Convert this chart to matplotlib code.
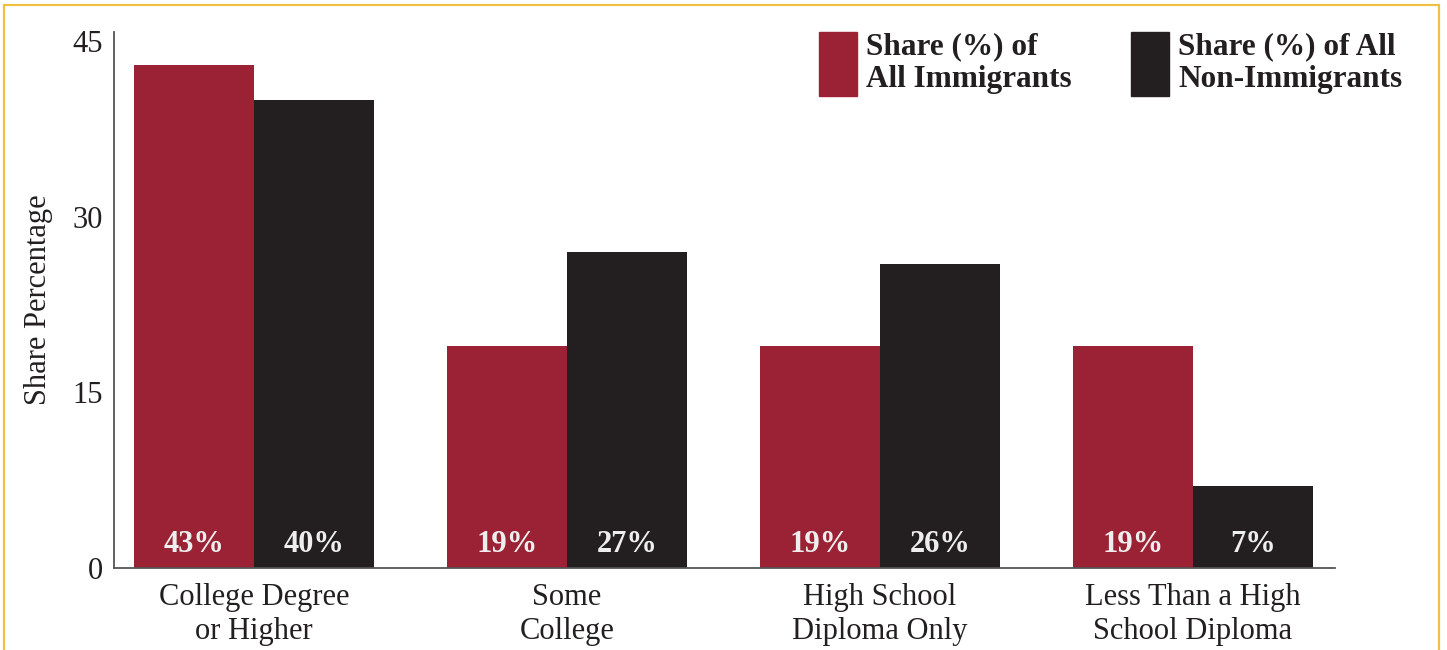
import numpy as np
import matplotlib.pyplot as plt
from matplotlib.patches import Rectangle

categories = ["College Degree\nor Higher", "Some\nCollege", "High School\nDiploma Only", "Less Than a High\nSchool Diploma"]
immigrants = [43, 19, 19, 19]
non_immigrants = [40, 27, 26, 7]
series_names = ["Share (%) of\nAll Immigrants", "Share (%) of All\nNon-Immigrants"]

red = "#9b2235"
dark = "#231f20"
serif = ["Liberation Serif", "DejaVu Serif"]

plt.rcParams["font.family"] = serif

fig = plt.figure(figsize=(14.47, 6.5), dpi=100)
ax = fig.add_axes([114 / 1447, 1 - 568 / 650, (1335 - 114) / 1447, (568 - 32) / 650])

x = np.arange(len(categories))
w = 0.383
b1 = ax.bar(x - w / 2, immigrants, w, color=red)
b2 = ax.bar(x + w / 2, non_immigrants, w, color=dark)

# value labels inside bars near the base
for bars, vals in [(b1, immigrants), (b2, non_immigrants)]:
    for bar, v in zip(bars, vals):
        ax.text(bar.get_x() + bar.get_width() / 2, 2.0, f"{v}%", ha="center", va="center",
                color="#eeeeee", fontsize=22, fontweight="bold")

ax.set_xlim(-0.447, 3.454)
ax.set_ylim(0, 45.8)
ax.set_yticks([0, 15, 30, 45])
ax.set_xticks(x)
ax.set_xticklabels(categories, fontsize=22, color=dark, linespacing=1.2)
ax.tick_params(axis="y", length=0, pad=8, labelsize=22, labelcolor=dark)
ax.tick_params(axis="x", length=0, pad=11)
for s in ["top", "right"]:
    ax.spines[s].set_visible(False)
for s in ["left", "bottom"]:
    ax.spines[s].set_color("#555555")
    ax.spines[s].set_linewidth(1.3)
ax.set_ylabel("Share Percentage", fontsize=22, color=dark, labelpad=14)

# legend drawn by hand to match the layout
for (x0, name, col) in [(819, series_names[0], red), (1131, series_names[1], dark)]:
    fig.patches.append(Rectangle((x0 / 1447, 1 - 96 / 650), 38 / 1447, 64 / 650,
                                 transform=fig.transFigure, color=col))
    fig.text((x0 + 47) / 1447, 1 - 63 / 650, name, fontsize=22.5, fontweight="bold",
             color=dark, va="center", ha="left", linespacing=1.15)

# gold frame
fig.patches.append(Rectangle((4 / 1447, -0.05), (1439 - 4) / 1447, 1.05 - 5 / 650,
                             transform=fig.transFigure, fill=False, edgecolor="#f0c045", linewidth=1.6))

fig.savefig("out.png", dpi=100)
